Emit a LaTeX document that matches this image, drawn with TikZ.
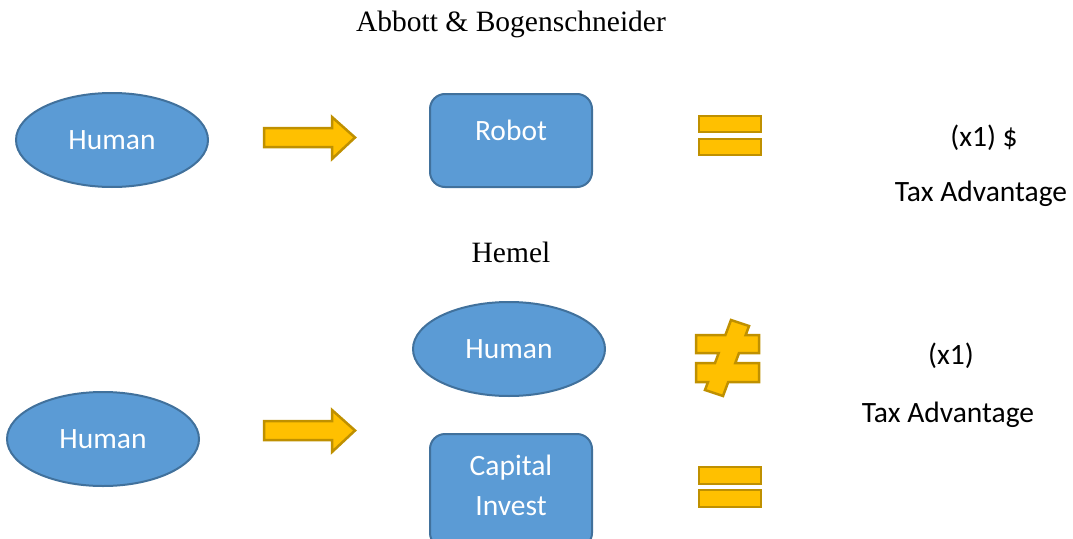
\documentclass[tikz,border=0pt]{standalone}
\usepackage{fontspec}
\setmainfont{Liberation Serif}
\newfontfamily\bodyfont{Carlito}
\usetikzlibrary{shapes.geometric}
\definecolor{bfill}{HTML}{5B9BD5}
\definecolor{bline}{HTML}{41719C}
\definecolor{gfill}{HTML}{FFC000}
\definecolor{gline}{HTML}{BF9000}
\tikzset{
  blob/.style={ellipse, fill=bfill, draw=bline, line width=2pt, minimum width=192pt, minimum height=94pt, inner sep=0pt},
  box/.style={rounded corners=15pt, fill=bfill, draw=bline, line width=2pt, inner sep=0pt},
  wtext/.style={text=white, font=\bodyfont\fontsize{29.5}{35}\selectfont, inner sep=0pt, align=center},
  btext/.style={text=black, font=\bodyfont\fontsize{29.5}{35}\selectfont, inner sep=0pt, anchor=base},
  ttext/.style={text=black, font=\fontsize{29.5}{35}\selectfont, inner sep=0pt, anchor=base},
  gold/.style={fill=gfill, draw=gline, line width=2.5pt, line join=miter},
}
\begin{document}
\begin{tikzpicture}[x=1pt,y=-1pt]
\useasboundingbox (0,0) rectangle (1073,538);
% titles
\node[ttext] (t1) at (511,31) {Abbott \& Bogenschneider};
\node[ttext] (t2) at (511,262) {Hemel};
% top row
\node[blob] (h1) at (112,140) {};
\node[wtext] at (h1.center) {Human};
\draw[gold] (264,128) -- (332,128) -- (332,117) -- (355,137.5) -- (332,159) -- (332,147) -- (264,147) -- cycle;
\draw[box] (430,94) rectangle (592,187);
\node[wtext] (robot) at (511,130) {Robot};
\draw[gold] (699,116) rectangle (761,132);
\draw[gold] (699,139) rectangle (761,155);
\node[btext] (x1a) at (984,146) {(x1) \$};
\node[btext] (ta1) at (981,201) {Tax Advantage};
% bottom row
\node[blob] (h2) at (509,349) {};
\node[wtext] at (h2.center) {Human};
\node[blob] (h3) at (103,439) {};
\node[wtext] at (h3.center) {Human};
\draw[gold] (264,421) -- (332,421) -- (332,410) -- (355,430.5) -- (332,452) -- (332,440) -- (264,440) -- cycle;
\draw[box] (430,434) rectangle (592,548);
\node[wtext] (cap) at (511,468) {Capital};
\node[wtext] (inv) at (511,506) {Invest};
\draw[gold] (731,320) -- (749,326) -- (745.7,335) -- (759,335) -- (759,353) -- (739,353) -- (735.3,363) -- (759,363) -- (759,382) -- (728.2,382) -- (723,396) -- (705,390) -- (708,382) -- (696,382) -- (696,363) -- (715,363) -- (718.7,353) -- (696,353) -- (696,335) -- (725.4,335) -- cycle;
\draw[gold] (699,467) rectangle (761,484);
\draw[gold] (699,490) rectangle (761,507);
\node[btext] (x1b) at (951,364) {(x1)};
\node[btext] (ta2) at (948,422) {Tax Advantage};
\end{tikzpicture}
\end{document}
